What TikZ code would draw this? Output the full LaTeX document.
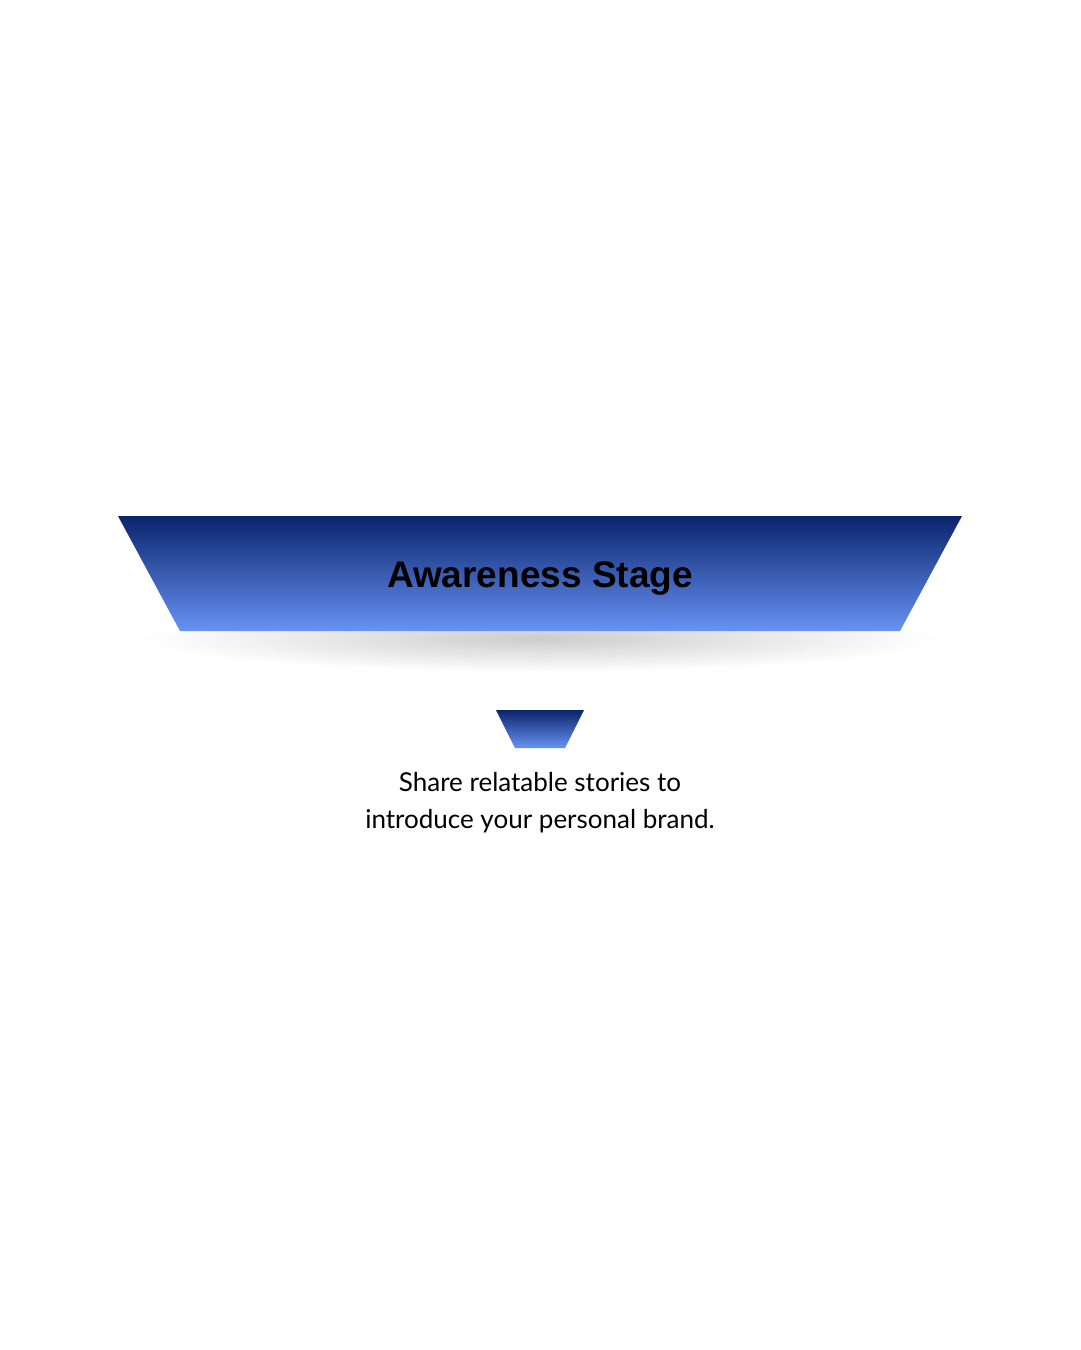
\documentclass[tikz,border=0pt]{standalone}
\usepackage{fontspec}
\setmainfont{Liberation Sans}
\newfontfamily\bodyfont{Lato}
\usepackage{tikz}
\definecolor{funneltop}{HTML}{0A246C}
\definecolor{funnelbot}{HTML}{6892F4}

\begin{document}
\begin{tikzpicture}[x=1pt, y=-1pt,
    funnel/.style={top color=funneltop, bottom color=funnelbot},
    shadowblob/.style={inner color=black!20, outer color=white}]
      \useasboundingbox[fill=white] (0,0) rectangle (1080,1350);

      % soft shadow under the big band
      \shade[shadowblob] (540,638) ellipse [x radius=400, y radius=34];
      \fill[white] (100,500) rectangle (980,631);

      % big band
      \shade[funnel] (118,516) -- (962,516) -- (900,631) -- (180,631) -- cycle;
      \node[font=\bfseries\fontsize{37}{40}\selectfont, text=black] (stage) at (540,578) {Awareness Stage};

      % small band
      \shade[funnel] (496,710) -- (584,710) -- (565,748) -- (515,748) -- cycle;
      \node[font=\bodyfont\fontsize{26}{37}\selectfont, align=center] (desc) at (540,803)
        {Share relatable stories to\\introduce your personal brand.};
\end{tikzpicture}
\end{document}
